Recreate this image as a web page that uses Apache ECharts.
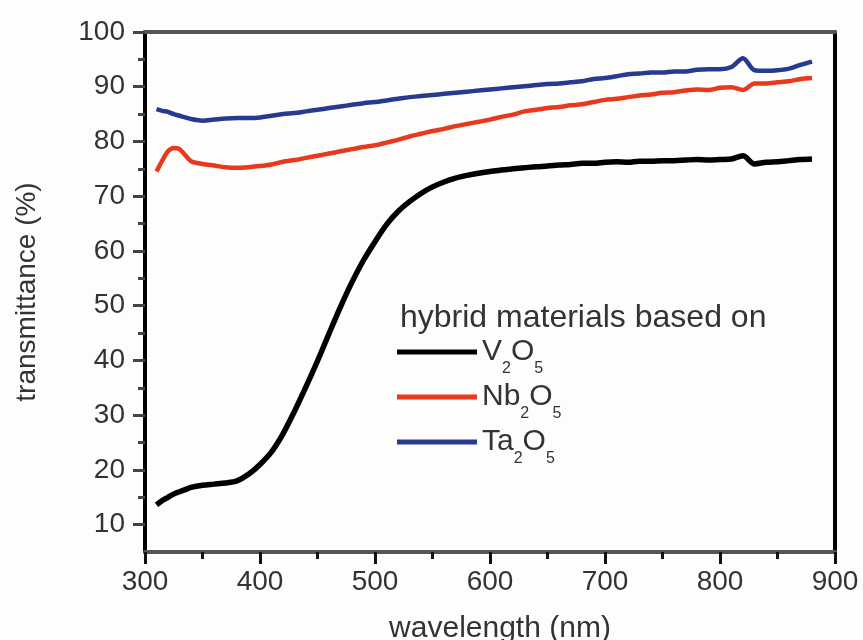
<!DOCTYPE html>
<html>
<head>
<meta charset="utf-8">
<script src="https://cdn.jsdelivr.net/npm/echarts@6/dist/echarts.min.js"></script>
<style>
  html, body { margin: 0; padding: 0; background: #fdfdfb; }
  #chart { width: 863px; height: 640px; }
</style>
</head>
<body>
<div id="chart"></div>
<script>
// wavelength grid (nm)
const wavelengths = [310, 315, 320, 325, 330, 335, 340, 350, 360, 370, 380, 390, 400, 410, 420, 430, 440, 450,
  460, 470, 480, 490, 500, 510, 520, 530, 540, 550, 560, 570, 580, 590, 600, 610, 620, 630, 640, 650,
  660, 670, 680, 690, 700, 710, 720, 730, 740, 750, 760, 770, 780, 790, 800, 810, 820, 830, 840, 850,
  860, 870, 880];

// transmittance (%) of each hybrid film
const v2o5 = [13.6, 14.4, 15.0, 15.6, 16.0, 16.4, 16.8, 17.2, 17.4, 17.6, 18.0, 19.2, 21.0, 23.3, 26.6, 30.7, 35.2, 39.9,
  44.9, 49.8, 54.3, 58.3, 61.7, 64.8, 67.2, 69.0, 70.5, 71.7, 72.6, 73.3, 73.8, 74.2, 74.5, 74.8, 75.0, 75.2, 75.4, 75.5,
  75.7, 75.8, 76.0, 76.0, 76.2, 76.3, 76.2, 76.4, 76.4, 76.5, 76.5, 76.6, 76.7, 76.6, 76.7, 76.8, 77.4, 75.9, 76.2, 76.3,
  76.5, 76.7, 76.8];

const nb2o5 = [74.5, 76.5, 78.2, 78.8, 78.6, 77.5, 76.4, 75.9, 75.6, 75.3, 75.2, 75.3, 75.5, 75.8, 76.3, 76.6, 77.0, 77.4,
  77.8, 78.2, 78.6, 79.0, 79.3, 79.8, 80.3, 80.9, 81.4, 81.9, 82.3, 82.8, 83.2, 83.6, 84.0, 84.5, 84.9, 85.5, 85.8, 86.1,
  86.3, 86.6, 86.8, 87.2, 87.6, 87.8, 88.1, 88.4, 88.6, 88.9, 89.0, 89.3, 89.5, 89.4, 89.8, 89.9, 89.4, 90.6, 90.6, 90.8,
  91.0, 91.4, 91.6];

const ta2o5 = [85.9, 85.6, 85.4, 85.0, 84.7, 84.4, 84.1, 83.8, 84.0, 84.2, 84.3, 84.3, 84.4, 84.7, 85.0, 85.2, 85.5, 85.8,
  86.1, 86.4, 86.7, 87.0, 87.2, 87.5, 87.8, 88.1, 88.3, 88.5, 88.7, 88.9, 89.1, 89.3, 89.5, 89.7, 89.9, 90.1, 90.3, 90.5,
  90.6, 90.8, 91.0, 91.4, 91.6, 91.9, 92.3, 92.4, 92.6, 92.6, 92.8, 92.8, 93.1, 93.2, 93.2, 93.6, 95.2, 93.0, 92.9, 93.0,
  93.3, 94.0, 94.6];

// axis ticks
const xTicks = [300, 400, 500, 600, 700, 800, 900];
const yTicks = [10, 20, 30, 40, 50, 60, 70, 80, 90, 100];
const yMinorTicks = [15, 25, 35, 45, 55, 65, 75, 85, 95];
const yMin = 5;

const seriesNames = ['V2O5', 'Nb2O5', 'Ta2O5'];
const seriesColors = ['#000000', '#e8381e', '#263a8f'];
const seriesValues = [v2o5, nb2o5, ta2o5];

const FONT = '"Liberation Sans", Arial, Helvetica, sans-serif';

function pairs(values) {
  return wavelengths.map((w, i) => [w, values[i]]);
}

// formula labels with subscripted digits
function formula(name) {
  return name.split(/(\d)/).filter(s => s).map(part =>
    /^\d$/.test(part) ? '{s|' + part + '}' : '{n|' + part + '}'
  ).join('');
}

const chart = echarts.init(document.getElementById('chart'), null, { renderer: 'canvas' });

const labelStyle = { color: '#333', fontSize: 28, fontFamily: FONT };
const yRange = { min: yMin, max: yTicks[yTicks.length - 1], interval: 5 };

chart.setOption({
  backgroundColor: '#fdfdfb',
  animation: false,
  title: {
    text: 'hybrid materials based on',
    left: 400,
    top: 302,
    padding: 0,
    textStyle: { color: '#333', fontSize: 32, fontWeight: 'normal', fontFamily: FONT }
  },
  legend: {
    orient: 'vertical',
    left: 397,
    top: 327,
    padding: 0,
    itemWidth: 80,
    itemHeight: 5,
    itemGap: -5,
    icon: 'rect',
    data: seriesNames,
    formatter: formula,
    textStyle: {
      color: '#333',
      fontFamily: FONT,
      rich: {
        n: { fontSize: 30, lineHeight: 40, verticalAlign: 'middle', color: '#333', fontFamily: FONT },
        s: { fontSize: 16, lineHeight: 16, verticalAlign: 'middle', color: '#333', fontFamily: FONT, padding: [34, 0, 0, 0] }
      }
    }
  },
  grid: { left: 145, right: 28, top: 32, bottom: 88, outerBoundsMode: 'none' },
  xAxis: [{
    type: 'value',
    min: xTicks[0],
    max: xTicks[xTicks.length - 1],
    interval: 100,
    name: 'wavelength (nm)',
    nameLocation: 'middle',
    nameGap: 62,
    nameTextStyle: { color: '#333', fontSize: 30, fontFamily: FONT, padding: [0, 0, 0, 20] },
    axisLine: { lineStyle: { color: '#555', width: 4 } },
    axisTick: { show: true, inside: false, length: 12, lineStyle: { color: '#111', width: 3 } },
    minorTick: { show: true, splitNumber: 2, length: 7, lineStyle: { color: '#111', width: 3 } },
    axisLabel: Object.assign({ margin: 16 }, labelStyle),
    splitLine: { show: false }
  }, {
    type: 'value',
    position: 'top',
    min: xTicks[0],
    max: xTicks[xTicks.length - 1],
    interval: 100,
    axisLine: { lineStyle: { color: '#555', width: 4 } },
    axisTick: { show: false },
    axisLabel: { show: false },
    splitLine: { show: false }
  }],
  yAxis: [Object.assign({
    type: 'value',
    name: 'transmittance (%)',
    nameLocation: 'middle',
    nameGap: 104,
    nameTextStyle: { color: '#333', fontSize: 28, fontFamily: FONT },
    axisLine: { onZero: false, lineStyle: { color: '#000', width: 4 } },
    axisTick: { show: true, inside: false, length: 12, customValues: yTicks, lineStyle: { color: '#444', width: 3 } },
    axisLabel: Object.assign({ margin: 20, customValues: yTicks }, labelStyle),
    splitLine: { show: false }
  }, yRange), Object.assign({
    type: 'value',
    position: 'right',
    axisLine: { show: true, onZero: false, lineStyle: { color: '#000', width: 4 } },
    axisTick: { show: false },
    axisLabel: { show: false },
    splitLine: { show: false }
  }, yRange), Object.assign({
    // short ticks between the labelled ones
    type: 'value',
    position: 'left',
    axisLine: { show: false, onZero: false },
    axisTick: { show: true, inside: false, length: 7, customValues: yMinorTicks, lineStyle: { color: '#444', width: 3 } },
    axisLabel: { show: false },
    splitLine: { show: false }
  }, yRange)],
  series: seriesNames.map((name, i) => ({
    name: name,
    type: 'line',
    xAxisIndex: 0,
    yAxisIndex: 0,
    data: pairs(seriesValues[i]),
    showSymbol: false,
    smooth: 0.3,
    color: seriesColors[i],
    lineStyle: { color: seriesColors[i], width: i === 0 ? 5.5 : 4.5 },
    z: 3 - i
  }))
});
</script>
</body>
</html>
